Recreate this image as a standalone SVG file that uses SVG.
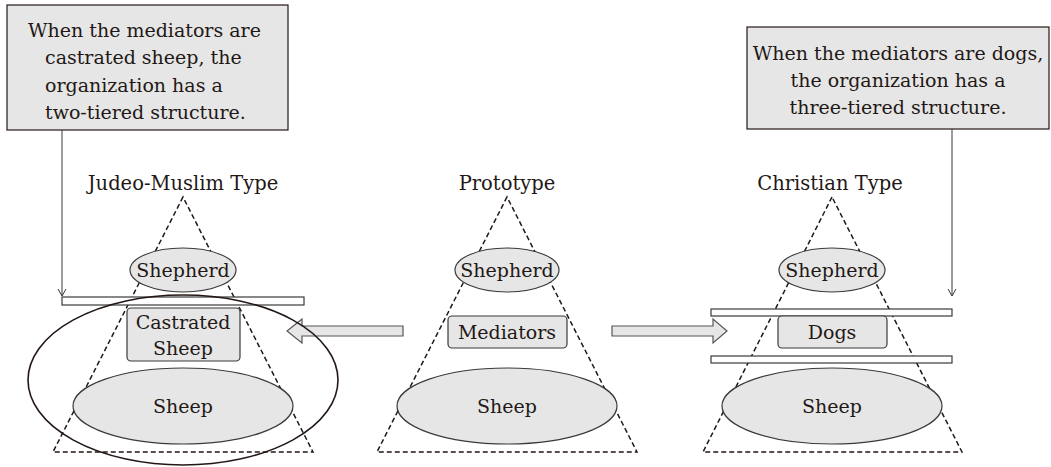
<svg xmlns="http://www.w3.org/2000/svg" width="1051" height="467" viewBox="0 0 1051 467">
<style>
text{font-family:"DejaVu Serif","Liberation Serif",serif;font-size:19px;fill:#231815}
.c{text-anchor:middle}
.lbl{font-size:19.5px}
.box{fill:#e6e6e6;stroke:#231815;stroke-width:1.2}
.node{fill:#e6e6e6;stroke:#3a3a3a;stroke-width:1.2}
.tri{fill:none;stroke:#231815;stroke-width:1.5;stroke-dasharray:5,3}
.bar{fill:#fff;stroke:#3a3a3a;stroke-width:1.2}
.conn{fill:none;stroke:#3a3a3a;stroke-width:1}
.barrow{fill:#e6e6e6;stroke:#555;stroke-width:1.2}
</style>
<defs>
<marker id="open" markerWidth="10" markerHeight="10" refX="9" refY="5" orient="auto" markerUnits="userSpaceOnUse" viewBox="0 0 10 10">
<path d="M2,1 L9,5 L2,9" fill="none" stroke="#3a3a3a" stroke-width="1"/>
</marker>
</defs>

<g id="triangles">
<polygon class="tri" points="183,197 53,452 313,452"/>
<polygon class="tri" points="507,197 377,452 637,452"/>
<polygon class="tri" points="832,197 703,452 962,452"/>
</g>

<g id="note-left">
<rect class="box" x="7" y="5" width="281" height="125"/>
<text x="28" y="37">When the mediators are</text>
<text x="45" y="64">castrated sheep, the</text>
<text x="45" y="92">organization has a</text>
<text x="45" y="119">two-tiered structure.</text>
</g>

<g id="note-right">
<rect class="box" x="747" y="27" width="302" height="102"/>
<text class="c" x="898" y="60">When the mediators are dogs,</text>
<text class="c" x="898" y="87">the organization has a</text>
<text class="c" x="898" y="114">three-tiered structure.</text>
</g>

<g id="labels">
<text class="c lbl" x="183" y="190">Judeo-Muslim Type</text>
<text class="c lbl" x="507" y="190">Prototype</text>
<text class="c lbl" x="830" y="190">Christian Type</text>
</g>

<g id="connectors">
<polyline class="conn" points="62,130 62,296" marker-end="url(#open)"/>
<polyline class="conn" points="952,129 952,296" marker-end="url(#open)"/>
<polygon class="barrow" points="403,326 302,326 302,319 287,331 302,343 302,336 403,336"/>
<polygon class="barrow" points="612,326 713,326 713,319 727,331 713,343 713,336 612,336"/>
</g>

<g id="bars">
<rect class="bar" x="62" y="297" width="242" height="8"/>
<rect class="bar" x="711" y="309" width="241" height="7"/>
<rect class="bar" x="711" y="356" width="241" height="7"/>
</g>

<g id="jm-shepherd">
<ellipse class="node" cx="183" cy="270" rx="53" ry="22"/>
<text class="c" x="183" y="277">Shepherd</text>
</g>
<g id="jm-castrated">
<rect class="node" x="127" y="308" width="113" height="53" rx="4"/>
<text class="c" x="183" y="329">Castrated</text>
<text class="c" x="183" y="355">Sheep</text>
</g>
<g id="jm-sheep">
<ellipse class="node" cx="183" cy="406" rx="110" ry="38"/>
<text class="c" x="183" y="413">Sheep</text>
</g>
<g id="jm-group">
<ellipse cx="183" cy="380" rx="155" ry="85" fill="none" stroke="#231815" stroke-width="1.6"/>
</g>

<g id="p-shepherd">
<ellipse class="node" cx="507" cy="270" rx="52" ry="22"/>
<text class="c" x="507" y="277">Shepherd</text>
</g>
<g id="p-mediators">
<rect class="node" x="448" y="316" width="119" height="32" rx="4"/>
<text class="c" x="507" y="339">Mediators</text>
</g>
<g id="p-sheep">
<ellipse class="node" cx="507" cy="406" rx="110" ry="38"/>
<text class="c" x="507" y="413">Sheep</text>
</g>

<g id="c-shepherd">
<ellipse class="node" cx="832" cy="270" rx="53" ry="22"/>
<text class="c" x="832" y="277">Shepherd</text>
</g>
<g id="c-dogs">
<rect class="node" x="778" y="316" width="109" height="32" rx="4"/>
<text class="c" x="832" y="339">Dogs</text>
</g>
<g id="c-sheep">
<ellipse class="node" cx="832" cy="406" rx="110" ry="38"/>
<text class="c" x="832" y="413">Sheep</text>
</g>
</svg>
